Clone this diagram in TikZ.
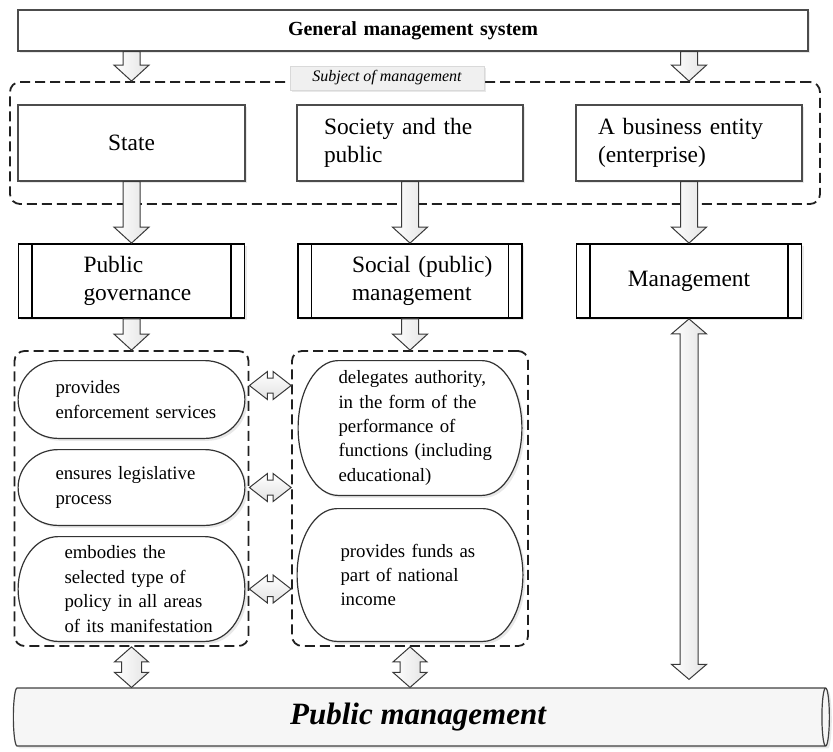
\documentclass[tikz,border=0pt]{standalone}
\usepackage{fontspec}
\setmainfont{Liberation Serif}
\usetikzlibrary{positioning, shapes.geometric, shadows, backgrounds, calc}

\newcommand{\boxfont}{\fontsize{11.7}{13.7}\selectfont}
\newcommand{\ovalfont}{\fontsize{9.4}{12.2}\selectfont}
\newcommand{\titlefont}{\fontsize{10}{12}\selectfont\bfseries}
\newcommand{\tagfont}{\fontsize{8}{9.6}\selectfont\itshape}
\newcommand{\pipefont}{\fontsize{15.5}{18}\selectfont\bfseries\itshape}

\newcommand{\arrshaft}{4.25pt}
\newcommand{\arrhead}{8.75pt}
\newcommand{\arrlen}{8pt}

% block arrow, pointing down
\newcommand{\downblock}[2]{%
  \draw[blockarr] let \p1=(#1), \p2=(#2) in
    (\x1-\arrshaft,\y1) -- (\x1-\arrshaft,\y2+\arrlen) -- (\x1-\arrhead,\y2+\arrlen)
    -- (\x1,\y2) -- (\x1+\arrhead,\y2+\arrlen) -- (\x1+\arrshaft,\y2+\arrlen)
    -- (\x1+\arrshaft,\y1) -- cycle;}
% block arrow, up and down
\newcommand{\vdouble}[2]{%
  \draw[blockarr] let \p1=(#1), \p2=(#2) in
    (\x1,\y1) -- (\x1+\arrhead,\y1-\arrlen) -- (\x1+\arrshaft,\y1-\arrlen)
    -- (\x1+\arrshaft,\y2+\arrlen) -- (\x1+\arrhead,\y2+\arrlen) -- (\x1,\y2)
    -- (\x1-\arrhead,\y2+\arrlen) -- (\x1-\arrshaft,\y2+\arrlen)
    -- (\x1-\arrshaft,\y1-\arrlen) -- (\x1-\arrhead,\y1-\arrlen) -- cycle;}
% block arrow, left and right
\newcommand{\hdouble}[2]{%
  \draw[blockarrh] let \p1=(#1), \p2=(#2) in
    (\x1,\y1) -- (\x1+\arrlen,\y1+\arrhead) -- (\x1+\arrlen,\y1+\arrshaft)
    -- (\x2-\arrlen,\y1+\arrshaft) -- (\x2-\arrlen,\y1+\arrhead) -- (\x2,\y1)
    -- (\x2-\arrlen,\y1-\arrhead) -- (\x2-\arrlen,\y1-\arrshaft)
    -- (\x1+\arrlen,\y1-\arrshaft) -- (\x1+\arrlen,\y1-\arrhead) -- cycle;}
% oval outline round a node
\newcommand{\ovalframe}[1]{%
  \draw[ovalline] let \p1=(#1.north west), \p2=(#1.south east) in
    (\x1+20pt,\y1) -- (\x2-20pt,\y1)
    arc[start angle=90, end angle=-90, x radius=20pt, y radius={(\y1-\y2)/2}]
    -- (\x1+20pt,\y2)
    arc[start angle=270, end angle=90, x radius=20pt, y radius={(\y1-\y2)/2}] -- cycle;}

\begin{document}
\begin{tikzpicture}
  [x=0.5pt, y=-0.5pt, on grid,
   softshadow/.style={drop shadow={shadow xshift=1.2pt, shadow yshift=-1.2pt, opacity=0.18}},
   textindent/.style={align=left, execute at begin node={\leftskip=#1\relax}},
   plainbox/.style={draw=gray!60!black, line width=0.6pt, fill=white, inner xsep=0pt,
     inner ysep=2pt, minimum height=38pt, font=\boxfont, softshadow},
   procbox/.style={draw=black, line width=0.9pt, fill=white, inner xsep=0pt,
     minimum height=37pt, font=\boxfont, softshadow,
     path picture={\draw[line width=0.9pt]
       ([xshift=6.75pt]path picture bounding box.north west) -- ([xshift=6.75pt]path picture bounding box.south west)
       ([xshift=-6.75pt]path picture bounding box.north east) -- ([xshift=-6.75pt]path picture bounding box.south east);}},
   groupframe/.style={draw=gray!25!black, line width=0.9pt, dash pattern=on 5pt off 2.5pt,
     rounded corners=5pt},
   tagbox/.style={fill=gray!12, draw=gray!30, minimum width=97pt, minimum height=12pt,
     inner sep=1pt, font=\tagfont, softshadow},
   ovaltext/.style={inner sep=0pt, font=\ovalfont},
   ovalline/.style={draw=gray!40!black, line width=0.6pt, fill=white, softshadow},
   pipe/.style={cylinder, draw=gray!50!black, line width=0.6pt, fill=gray!7, shape aspect=0.18,
     minimum width=29pt, minimum height=408pt, font=\pipefont, softshadow},
   blockarr/.style={draw=gray!45!black, line width=0.5pt, left color=white, right color=gray!22},
   blockarrh/.style={draw=gray!45!black, line width=0.5pt, top color=white, bottom color=gray!22}]

  \useasboundingbox (0,0) rectangle (833,751);

  % subjects of management
  \node[plainbox, text width=113.5pt, align=center] (state) at (131.5,143) {State};
  \node[plainbox, text width=113pt, textindent=13.5pt, right=139.25pt of state] (society) {Society and the\\public};
  \node[plainbox, text width=113pt, textindent=11pt, right=139.5pt of society] (biz) {A business entity\\(enterprise)};
  \node[plainbox, text width=395pt, minimum height=20.5pt, align=center, font=\titlefont,
    above right=56.25pt and 1.5pt of society] (general) {General management system};
  \node[groupframe, minimum width=405pt, minimum height=61pt, right=2.5pt of society] (subject) {};
  \node[tagbox, above left=32.5pt and 11.5pt of society] (tag) {Subject of management};

  % kinds of management
  \node[procbox, text width=113pt, textindent=32.5pt, below=69pt of state] (pubgov) {Public\\governance};
  \node[procbox, text width=112pt, textindent=27pt, below=69pt of society] (social) {Social (public)\\management};
  \node[procbox, text width=112.5pt, align=center, below=69pt of biz] (mgmt) {Management};

  % functions
  \node[groupframe, minimum width=117pt, minimum height=147.5pt, below=108.75pt of pubgov] (leftgrp) {};
  \node[groupframe, minimum width=118pt, minimum height=147.5pt, below=108.75pt of social] (rightgrp) {};
  \node[ovaltext, text width=113pt, minimum height=38.5pt, textindent=18.5pt, below=59.25pt of pubgov] (lo1) {provides\\enforcement services};
  \node[ovaltext, text width=113pt, minimum height=37.5pt, textindent=18.5pt, below=44pt of lo1] (lo2) {ensures legislative\\process};
  \node[ovaltext, text width=113pt, minimum height=52pt, textindent=23pt, below=50.75pt of lo2] (lo3) {embodies the\\selected type of\\policy in all areas\\of its manifestation};
  \node[ovaltext, text width=111.5pt, minimum height=67pt, textindent=20pt, below=73.5pt of social] (ro1) {delegates authority,\\in the form of the\\performance of\\functions (including\\educational)};
  \node[ovaltext, text width=112.5pt, minimum height=66pt, textindent=21.5pt, below=73.5pt of ro1] (ro2) {provides funds as\\part of national\\income};
  \begin{pgfonlayer}{background}
    \ovalframe{lo1}
    \ovalframe{lo2}
    \ovalframe{lo3}
    \ovalframe{ro1}
    \ovalframe{ro2}
  \end{pgfonlayer}

  \node[pipe, below right=109.25pt and 4pt of rightgrp] (pubmgmt) {Public management};

  \coordinate (mgmtend) at ($(mgmt.south |- pubmgmt.north)+(0pt,4pt)$);
  \coordinate (h1) at ($(lo1.east)+(0pt,7pt)$);

  % arrows
  \downblock{general.south -| state}{subject.north -| state}
  \downblock{general.south -| biz}{subject.north -| biz}
  \downblock{state.south}{pubgov.north}
  \downblock{society.south}{social.north}
  \downblock{biz.south}{mgmt.north}
  \downblock{pubgov.south}{leftgrp.north}
  \downblock{social.south}{rightgrp.north}

  \renewcommand{\arrshaft}{5pt}
  \renewcommand{\arrhead}{8.5pt}
  \renewcommand{\arrlen}{7.5pt}
  \vdouble{leftgrp.south}{leftgrp.south |- pubmgmt.north}
  \vdouble{rightgrp.south}{rightgrp.south |- pubmgmt.north}
  \renewcommand{\arrshaft}{4.5pt}
  \renewcommand{\arrhead}{8.75pt}
  \vdouble{mgmt.south}{mgmtend}

  \renewcommand{\arrshaft}{3.75pt}
  \renewcommand{\arrhead}{7pt}
  \renewcommand{\arrlen}{9pt}
  \hdouble{leftgrp.east |- h1}{rightgrp.west |- h1}
  \hdouble{leftgrp.east |- lo2}{rightgrp.west |- lo2}
  \hdouble{leftgrp.east |- lo3}{rightgrp.west |- lo3}
\end{tikzpicture}
\end{document}
